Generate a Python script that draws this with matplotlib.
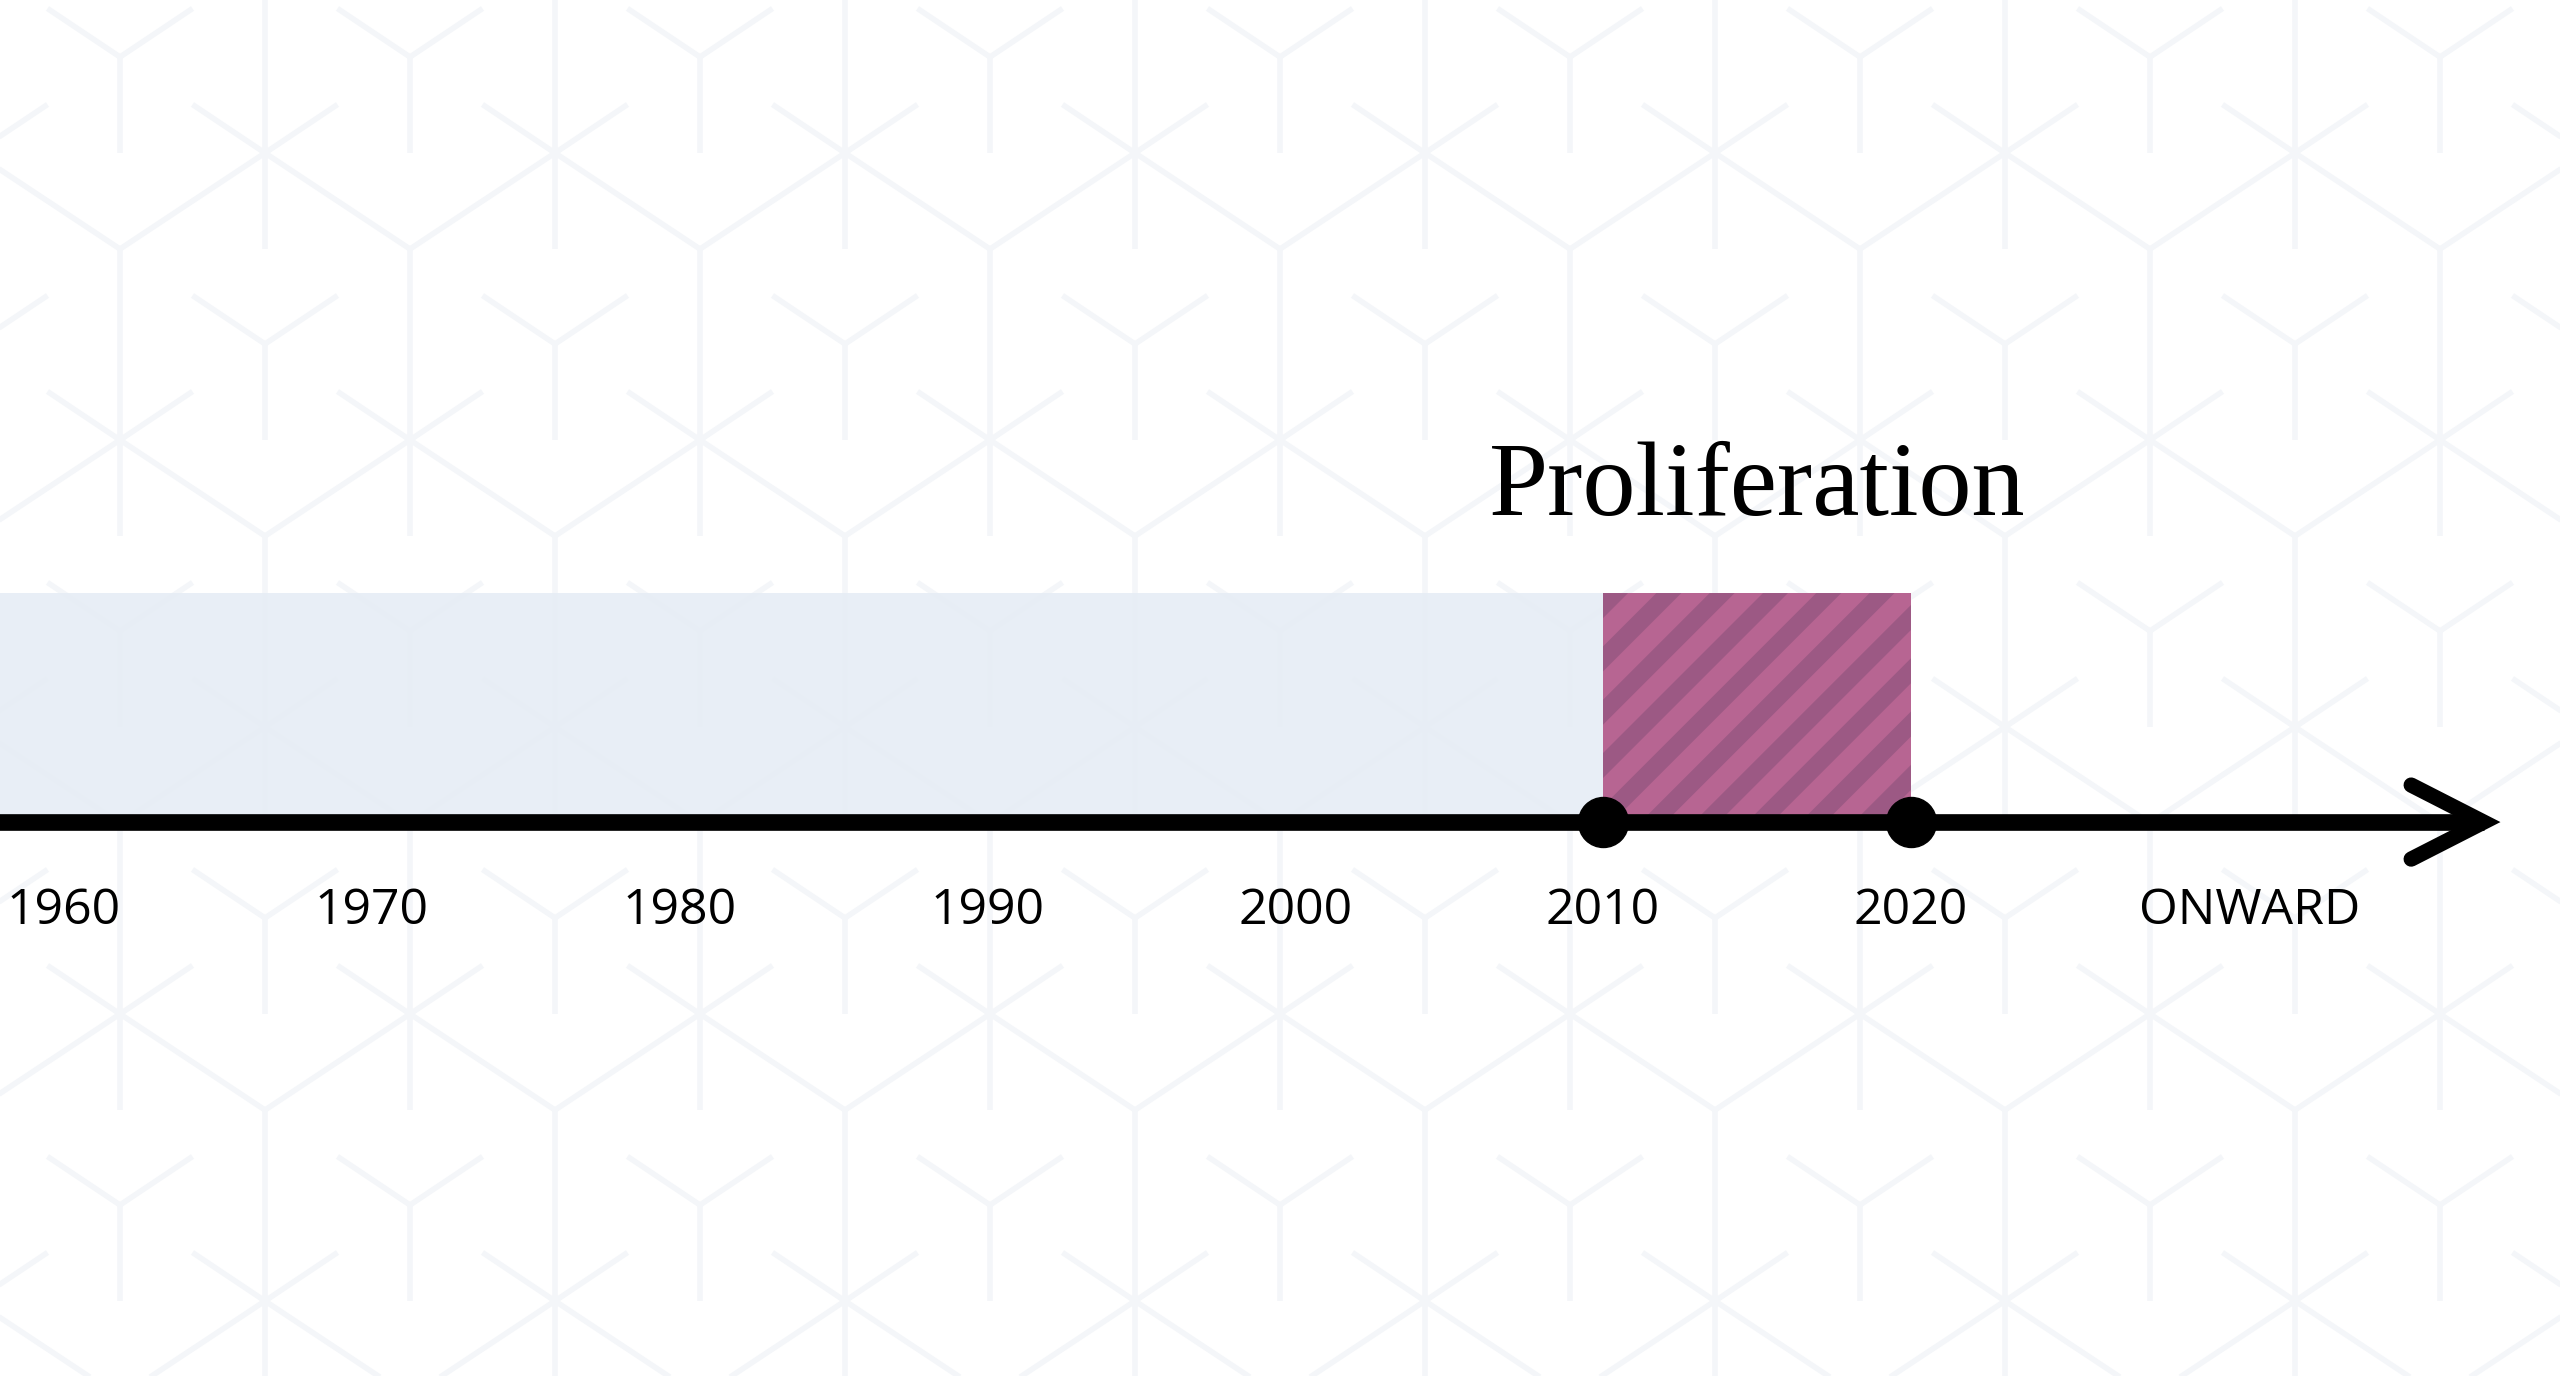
import numpy as np
import matplotlib
matplotlib.use("Agg")
import matplotlib.pyplot as plt
from matplotlib.collections import LineCollection, PolyCollection
from matplotlib.patches import Rectangle
from matplotlib.transforms import IdentityTransform

# dane osi czasu
tick_years = [1960, 1970, 1980, 1990, 2000, 2010, 2020, 2031]
tick_labels = ["1960", "1970", "1980", "1990", "2000", "2010", "2020", "ONWARD"]
past_start, past_end = 1950, 2010
period_start, period_end = 2010, 2020
period_label = "Proliferation"
milestones = [2010, 2020]

W, H = 2560, 1376
fig = plt.figure(figsize=(W / 100, H / 100), dpi=100)
fig.patch.set_facecolor("white")

# tlo - wzor z kostek, w pikselach
bg = fig.add_axes([0, 0, 1, 1])
bg.set_xlim(0, W)
bg.set_ylim(H, 0)
bg.axis("off")

va = np.array([290.0, 0.0])
vb = np.array([145.0, 287.0])
A0 = np.array([120.0, 57.0])
segs = []
for n in range(-1, 6):
    for m in range(-6, 12):
        A = A0 + m * va + n * vb
        B = A + [145, 96]
        C = A + [0, 192]
        segs += [[A, A + [-72.5, -48.5]], [A, A + [72.5, -48.5]], [A, A + [0, 96]],
                 [B, B + [-72.5, -48.5]], [B, B + [72.5, -48.5]],
                 [B, B + [-145, 96]], [B, B + [145, 96]],
                 [C, C + [0, 287]]]
bg.add_collection(LineCollection(segs, colors="#f4f6f9", linewidths=4, capstyle="butt"))

# os czasu
ax = fig.add_axes([0, 0, 1, 1])
ax.patch.set_alpha(0)
ax.set_xlim(1957.92, 2041.09)
ax.set_ylim(-2.419, 3.590)
ax.axis("off")

ax.add_patch(Rectangle((past_start, 0), past_end - past_start, 1,
                       facecolor="#e6edf5", edgecolor="none", alpha=0.9, zorder=1))
rect = Rectangle((period_start, 0), period_end - period_start, 1,
                 facecolor="#b76592", edgecolor="none", zorder=2)
ax.add_patch(rect)

# paski na prostokacie
(x0, y0), (x1, y1) = ax.transData.transform([(period_start, 0), (period_end, 1)])
pitch, w = 53.3, 25
c0 = x0 - y1
polys = []
for k in range(-25, 25):
    c = c0 + k * pitch
    polys.append([(c + y0, y0), (c + w + y0, y0), (c + w + y1, y1), (c + y1, y1)])
stripes = PolyCollection(polys, facecolors="#9c5984", edgecolors="none",
                         transform=IdentityTransform(), zorder=3)
ax.add_collection(stripes)
stripes.set_clip_path(rect)

tip = 2038.61
ax.plot([1955, tip], [0, 0], color="black", lw=12, solid_capstyle="butt", zorder=4)
ax.plot([tip - 2.355, tip, tip - 2.355], [0.1616, 0, -0.1616], color="black", lw=11,
        solid_capstyle="round", solid_joinstyle="miter", zorder=4)
ax.plot(milestones, [0] * len(milestones), "o", ms=36, color="black", zorder=5)

for yr, lab in zip(tick_years, tick_labels):
    ax.text(yr, -0.445, lab, ha="center", va="baseline", fontsize=36,
            family="Open Sans", color="black")

ax.text((period_start + period_end) / 2, 1.341, period_label, ha="center", va="baseline",
        fontsize=76.5, family="Liberation Serif", color="black")

fig.savefig("out.png", dpi=100)
